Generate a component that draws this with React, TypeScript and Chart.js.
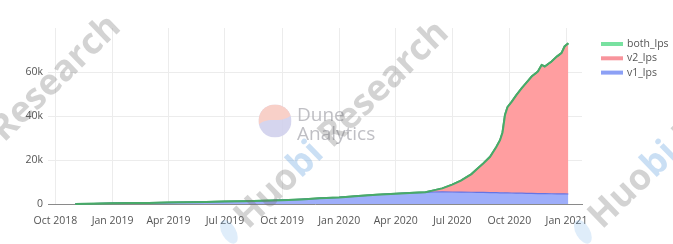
import React, { useEffect, useRef } from "react";
import { Chart, registerables } from "chart.js";

Chart.register(...registerables);

// Daily snapshot dates of the liquidity-provider counts
const dates = [
  "2018-11-02", "2018-12-01", "2019-01-01", "2019-02-01", "2019-03-01", "2019-04-01",
  "2019-05-01", "2019-06-01", "2019-07-01", "2019-08-01", "2019-09-01", "2019-10-01",
  "2019-11-01", "2019-12-01", "2020-01-01", "2020-02-01", "2020-03-01", "2020-04-01",
  "2020-05-01", "2020-05-19", "2020-06-01", "2020-06-15", "2020-07-01", "2020-07-15",
  "2020-08-01", "2020-08-10", "2020-08-20", "2020-08-31", "2020-09-10", "2020-09-16",
  "2020-09-20", "2020-09-24", "2020-09-28", "2020-10-05", "2020-10-12", "2020-10-21",
  "2020-10-29", "2020-11-06", "2020-11-16", "2020-11-22", "2020-11-27", "2020-12-08",
  "2020-12-17", "2020-12-24", "2020-12-29", "2021-01-04",
];

const v1Lps = [
  20, 150, 300, 400, 500, 650, 800, 950, 1100, 1250,
  1450, 1750, 2100, 2600, 3000, 3600, 4200, 4700, 5100, 5300,
  5450, 5500, 5450, 5400, 5350, 5300, 5250, 5200, 5150, 5100,
  5100, 5050, 5050, 5000, 4950, 4900, 4850, 4800, 4750, 4750,
  4700, 4650, 4600, 4600, 4600, 4550,
];

const v2Lps = [
  0, 0, 0, 0, 0, 0, 0, 0, 0, 0,
  0, 0, 0, 0, 0, 0, 0, 0, 0, 50,
  700, 1500, 3200, 5000, 8000, 10300, 12900, 15900, 20400, 23500,
  27000, 35000, 38500, 41100, 44000, 47300, 50000, 52700, 55000, 58000,
  57300, 59600, 62000, 63500, 66500, 68000,
];

const bothLps = [
  0, 0, 0, 0, 0, 0, 0, 0, 0, 0,
  0, 0, 0, 0, 0, 0, 0, 0, 0, 10,
  50, 100, 150, 200, 250, 300, 300, 350, 350, 400,
  400, 400, 450, 450, 450, 450, 450, 450, 450, 450,
  500, 500, 500, 500, 500, 500,
];

const xTickDates = [
  "2018-10-01", "2019-01-01", "2019-04-01", "2019-07-01", "2019-10-01",
  "2020-01-01", "2020-04-01", "2020-07-01", "2020-10-01", "2021-01-01",
];
const xTickLabels = [
  "Oct 2018", "Jan 2019", "Apr 2019", "Jul 2019", "Oct 2019",
  "Jan 2020", "Apr 2020", "Jul 2020", "Oct 2020", "Jan 2021",
];
const yTicks = [0, 20000, 40000, 60000];
const yTickLabels = ["0", "20k", "40k", "60k"];
const xRange = ["2018-09-19", "2021-01-26"];
const yMax = 80000;

const toTime = (d: string) => Date.parse(d + "T00:00:00Z");

const FONT = '"Open Sans", "DejaVu Sans", sans-serif';

const series = [
  { label: "v1_lps", values: v1Lps, fill: "rgb(158,174,250)", line: "rgb(100,116,228)", width: 1.2, swatch: "rgb(140,160,245)" },
  { label: "v2_lps", values: v2Lps, fill: "rgb(255,158,160)", line: "rgba(0,0,0,0)", width: 0, swatch: "rgb(248,148,156)" },
  { label: "both_lps", values: bothLps, fill: "rgb(125,228,165)", line: "rgb(72,170,105)", width: 2, swatch: "rgb(120,225,160)" },
];

// Keeps the both_lps outline above the lower traces where they coincide
const topLinePlugin = {
  id: "topLine",
  afterDatasetsDraw(chart: any) {
    const meta = chart.getDatasetMeta(2);
    if (meta && meta.dataset) meta.dataset.draw(chart.ctx, chart.chartArea);
  },
};

// Dune Analytics badge behind the traces
const dunePlugin = {
  id: "duneBadge",
  beforeDatasetsDraw(chart: any) {
    const ctx = chart.ctx;
    const cx = 275, cy = 121, r = 16.5;
    ctx.save();
    ctx.beginPath();
    ctx.arc(cx, cy, r, 0, Math.PI * 2);
    ctx.clip();
    ctx.fillStyle = "rgba(208,208,236,0.9)";
    ctx.fillRect(cx - r, cy - r, 2 * r, 2 * r);
    ctx.fillStyle = "rgba(250,208,198,0.95)";
    ctx.beginPath();
    ctx.moveTo(cx - r, cy + 4);
    ctx.bezierCurveTo(cx - 6, cy - 6, cx + 4, cy + 4, cx + r, cy - 6);
    ctx.lineTo(cx + r, cy - r);
    ctx.lineTo(cx - r, cy - r);
    ctx.closePath();
    ctx.fill();
    ctx.restore();
    ctx.save();
    ctx.fillStyle = "rgba(180,180,186,0.85)";
    ctx.font = `19px ${FONT}`;
    ctx.textBaseline = "alphabetic";
    ctx.fillText("Dune", 297, 121);
    ctx.fillText("Analytics", 297, 140);
    ctx.restore();
  },
};

const drawMark = (ctx: CanvasRenderingContext2D, x: number, y: number) => {
  ctx.save();
  ctx.translate(x, y);
  ctx.rotate((-44 * Math.PI) / 180);
  ctx.fillStyle = "rgba(110,175,230,0.22)";
  ctx.beginPath();
  ctx.ellipse(-15, -12, 7, 13, 0.25, 0, Math.PI * 2);
  ctx.fill();
  ctx.font = `bold 36px ${FONT}`;
  ctx.textBaseline = "alphabetic";
  ctx.fillStyle = "rgba(110,110,110,0.3)";
  ctx.fillText("Huo", 0, 0);
  let w = ctx.measureText("Huo").width;
  ctx.fillStyle = "rgba(80,150,220,0.3)";
  ctx.fillText("bi", w, 0);
  w += ctx.measureText("bi").width;
  ctx.fillStyle = "rgba(110,110,110,0.3)";
  ctx.fillText(" Research", w, 0);
  ctx.restore();
};

// Huobi Research marks laid over the whole canvas
const markPlugin = {
  id: "huobiMarks",
  afterDraw(chart: any) {
    const ctx = chart.ctx;
    drawMark(ctx, -80, 224);
    drawMark(ctx, 248, 230);
    drawMark(ctx, 602, 230);
  },
};

// Trace legend at the right, top trace first
const legendPlugin = {
  id: "sideLegend",
  afterDraw(chart: any) {
    const ctx = chart.ctx;
    ctx.save();
    ctx.font = `10.5px ${FONT}`;
    ctx.textBaseline = "middle";
    const order = [2, 1, 0];
    order.forEach((idx, row) => {
      const s = series[idx];
      const y = 44 + row * 14.3;
      ctx.fillStyle = s.swatch;
      ctx.fillRect(601, y - 2, 22, 4);
      ctx.fillStyle = "#555";
      ctx.fillText(s.label, 627, y);
    });
    ctx.restore();
  },
};

export default function App() {
  const canvasRef = useRef<HTMLCanvasElement | null>(null);

  useEffect(() => {
    const canvas = canvasRef.current;
    if (!canvas) return;
    const xs = dates.map(toTime);
    const chart = new Chart(canvas, {
      type: "line",
      data: {
        datasets: series.map((s, i) => ({
          label: s.label,
          data: s.values.map((v, j) => ({ x: xs[j], y: v })),
          fill: i === 0 ? "origin" : "-1",
          backgroundColor: s.fill,
          borderColor: s.line,
          borderWidth: s.width,
          pointRadius: 0,
          tension: 0,
        })),
      },
      options: {
        animation: false,
        responsive: false,
        devicePixelRatio: 1,
        layout: { padding: { left: 0, top: 28, right: 91, bottom: 0 } },
        plugins: {
          legend: { display: false },
          tooltip: { enabled: false },
        },
        scales: {
          x: {
            type: "linear",
            min: toTime(xRange[0]),
            max: toTime(xRange[1]),
            afterBuildTicks: (scale: any) => {
              scale.ticks = xTickDates.map((d) => ({ value: toTime(d) }));
            },
            afterFit: (scale: any) => {
              scale.height = 40;
            },
            ticks: {
              autoSkip: false,
              maxRotation: 0,
              padding: 11,
              color: "#555",
              font: { family: FONT, size: 10.5 },
              callback: (_v: any, i: number) => xTickLabels[i] ?? "",
            },
            grid: { color: "#ececec", drawTicks: false },
            border: { display: true, color: "#8a8a8a", width: 1 },
          },
          y: {
            stacked: true,
            min: 0,
            max: yMax,
            afterBuildTicks: (scale: any) => {
              scale.ticks = yTicks.map((v) => ({ value: v }));
            },
            afterFit: (scale: any) => {
              scale.width = 48;
            },
            ticks: {
              padding: 5,
              color: "#555",
              font: { family: FONT, size: 10.5 },
              callback: (_v: any, i: number) => yTickLabels[i] ?? "",
            },
            grid: { color: "#ececec", drawTicks: false },
            border: { display: false },
          },
        },
      },
      plugins: [dunePlugin, topLinePlugin, legendPlugin, markPlugin],
    });
    return () => chart.destroy();
  }, []);

  return (
    <div style={{ position: "fixed", left: 0, top: 0, width: 673, height: 244, background: "#fff" }}>
      <canvas ref={canvasRef} width={673} height={244} style={{ display: "block" }} />
    </div>
  );
}
